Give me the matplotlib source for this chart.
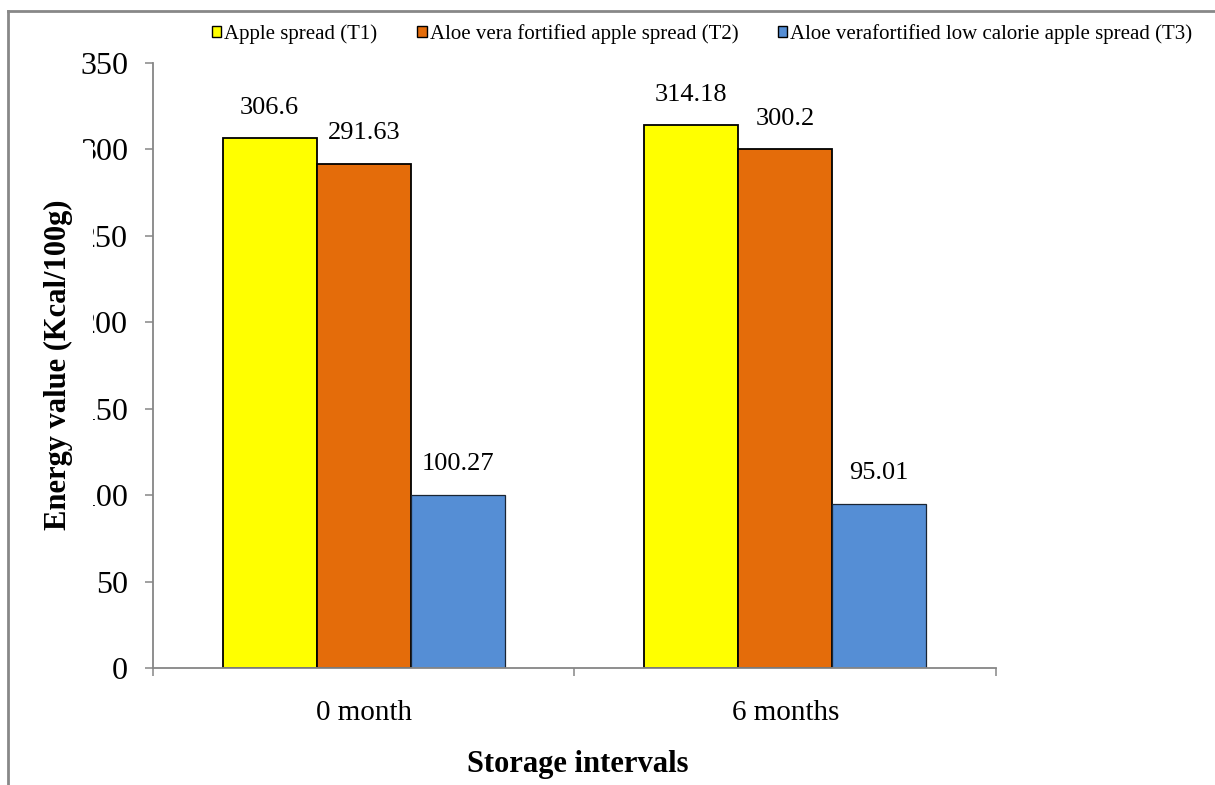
import matplotlib
matplotlib.use("Agg")
import matplotlib.pyplot as plt
import numpy as np
from matplotlib.patches import Patch, Rectangle
from matplotlib.lines import Line2D

plt.rcParams['font.family'] = ['Liberation Serif', 'DejaVu Serif']

categories = ["0 month", "6 months"]
series_names = ["Apple spread (T1)",
                "Aloe vera fortified apple spread (T2)",
                "Aloe verafortified low calorie apple spread (T3)"]
t1 = [306.6, 314.18]
t2 = [291.63, 300.2]
t3 = [100.27, 95.01]
value_labels = [["306.6", "314.18"], ["291.63", "300.2"], ["100.27", "95.01"]]
yticks = [0, 50, 100, 150, 200, 250, 300, 350]

colors = ["#FFFF00", "#E46C0A", "#558ED5"]
edgecolors = ["#000000", "#000000", "#1a2533"]
edgewidths = [1.3, 1.3, 0.9]

fig = plt.figure(figsize=(12.15, 7.85), dpi=100)
ax = fig.add_axes([0.1259, 0.149, 0.6938, 0.7707])

x = np.arange(len(categories))
w = 0.2233
series = [t1, t2, t3]
for i, vals in enumerate(series):
    bars = ax.bar(x + (i - 1) * w, vals, width=w, color=colors[i],
                  edgecolor=edgecolors[i], linewidth=edgewidths[i], zorder=2)
    for b, lab in zip(bars, value_labels[i]):
        ax.annotate(lab, (b.get_x() + b.get_width() / 2, b.get_height()),
                    xytext=(0, 14), textcoords="offset points",
                    ha="center", va="bottom", fontsize=19)

ax.set_xlim(-0.5, 1.5)
ax.set_ylim(0, 350)
ax.set_yticks(yticks)
ax.set_yticklabels([str(v) for v in yticks], fontsize=23)
ax.set_xticks(x)
ax.set_xticklabels(categories, fontsize=21)
ax.set_xticks([-0.5, 0.5, 1.5], minor=True)
ax.tick_params(axis='x', which='major', length=0, pad=23)
ax.tick_params(axis='x', which='minor', length=6, width=1.1, color="#868686", direction='out')
ax.tick_params(axis='y', length=6, width=1.1, color="#868686", direction='out', pad=12)

for s in ["top", "right"]:
    ax.spines[s].set_visible(False)
for s in ["left", "bottom"]:
    ax.spines[s].set_color("#868686")
    ax.spines[s].set_linewidth(1.3)

ax.set_xlabel("Storage intervals", fontsize=22, fontweight="bold")
ax.xaxis.set_label_coords(0.504, -0.135)

# white text box behind y label (covers part of tick labels as in reference)
fig.add_artist(Rectangle((0.0313, 0.3057), 0.0452, 0.512, transform=fig.transFigure,
                         facecolor="white", edgecolor="none", zorder=4))
fig.text(0.0481, 0.5357, "Energy value (Kcal/100g)", rotation=90, ha="center",
         va="center", fontsize=22, fontweight="bold", zorder=5)

handles = [Patch(facecolor=colors[i], edgecolor="black", linewidth=1.0) for i in range(3)]
fig.legend(handles, series_names, loc="center", bbox_to_anchor=(0.578, 0.957),
           ncol=3, frameon=False, fontsize=15, handlelength=0.45, handleheight=0.45,
           handletextpad=0.15, columnspacing=1.9, borderaxespad=0)

# outer frame lines (left and top)
fig.add_artist(Line2D([0.0068, 0.0068], [0.0, 0.986], transform=fig.transFigure,
                      color="#888888", linewidth=2))
fig.add_artist(Line2D([0.0068, 1.0], [0.986, 0.986], transform=fig.transFigure,
                      color="#888888", linewidth=2))

fig.savefig("out.png", dpi=100)
